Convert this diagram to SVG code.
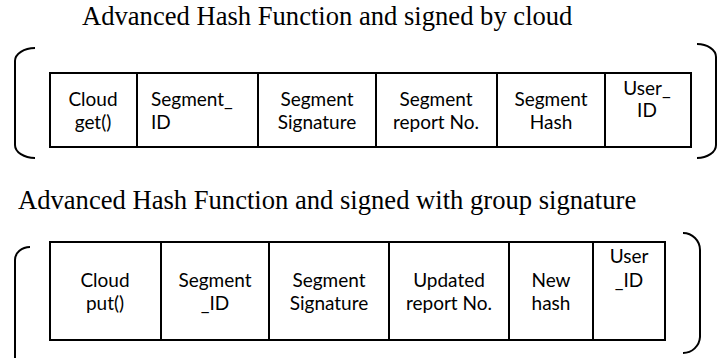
<svg xmlns="http://www.w3.org/2000/svg" width="725" height="358" viewBox="0 0 725 358">
  <style>
    .title { font-family: "Liberation Serif", "Times New Roman", serif; font-size: 26.6px; fill: #000; }
    .cell { font-family: Lato, "Liberation Sans", sans-serif; font-size: 19px; fill: #000; text-anchor: middle; }
    .left { text-anchor: start; }
    .box { fill: #fff; stroke: #000; stroke-width: 2; }
    .div { stroke: #000; stroke-width: 2; }
    .brace { fill: none; stroke: #000; stroke-width: 2; }
  </style>
  <rect width="725" height="358" fill="#fff"/>

  <!-- upper record: signed by cloud -->
  <g id="title-cloud">
    <text class="title" x="82" y="25">Advanced Hash Function and signed by cloud</text>
  </g>
  <g id="brackets-cloud">
    <path class="brace" d="M35,48 A20,13 0 0 0 15,61 L15,145 A20,13 0 0 0 35,158"/>
    <path class="brace" d="M697,44 A19,13 0 0 1 716,57 L716,145 A19,13 0 0 1 697,158"/>
  </g>
  <g id="record-cloud">
    <rect class="box" x="50" y="73" width="641" height="74"/>
    <line class="div" x1="137" y1="73" x2="137" y2="147"/>
    <line class="div" x1="258" y1="73" x2="258" y2="147"/>
    <line class="div" x1="376" y1="73" x2="376" y2="147"/>
    <line class="div" x1="497" y1="73" x2="497" y2="147"/>
    <line class="div" x1="605" y1="73" x2="605" y2="147"/>
  </g>
  <g id="cloud-get">
    <text class="cell" x="93" y="106">Cloud</text>
    <text class="cell" x="93" y="129">get()</text>
  </g>
  <g id="cloud-segment-id">
    <text class="cell left" x="151" y="106">Segment_</text>
    <text class="cell left" x="151" y="129">ID</text>
  </g>
  <g id="cloud-segment-signature">
    <text class="cell" x="317" y="106">Segment</text>
    <text class="cell" x="317" y="129">Signature</text>
  </g>
  <g id="cloud-report-no">
    <text class="cell" x="436" y="106">Segment</text>
    <text class="cell" x="436" y="129">report No.</text>
  </g>
  <g id="cloud-segment-hash">
    <text class="cell" x="551" y="106">Segment</text>
    <text class="cell" x="551" y="129">Hash</text>
  </g>
  <g id="cloud-user-id">
    <text class="cell" x="647" y="95">User_</text>
    <text class="cell" x="647" y="117">ID</text>
  </g>

  <!-- lower record: signed with group signature -->
  <g id="title-group">
    <text class="title" x="18" y="209">Advanced Hash Function and signed with group signature</text>
  </g>
  <g id="brackets-group">
    <path class="brace" d="M30,247 A15,13 0 0 0 15,260 L15,365"/>
    <path class="brace" d="M683,233 A17,17 0 0 1 700,250 L700,337 A17,17 0 0 1 683,353"/>
  </g>
  <g id="record-group">
    <rect class="box" x="50" y="242" width="615" height="98"/>
    <line class="div" x1="161" y1="242" x2="161" y2="340"/>
    <line class="div" x1="269" y1="242" x2="269" y2="340"/>
    <line class="div" x1="389" y1="242" x2="389" y2="340"/>
    <line class="div" x1="509" y1="242" x2="509" y2="340"/>
    <line class="div" x1="593" y1="242" x2="593" y2="340"/>
  </g>
  <g id="group-put">
    <text class="cell" x="105" y="287">Cloud</text>
    <text class="cell" x="105" y="310">put()</text>
  </g>
  <g id="group-segment-id">
    <text class="cell" x="215" y="287">Segment</text>
    <text class="cell" x="215" y="310">_ID</text>
  </g>
  <g id="group-segment-signature">
    <text class="cell" x="329" y="287">Segment</text>
    <text class="cell" x="329" y="310">Signature</text>
  </g>
  <g id="group-report-no">
    <text class="cell" x="449" y="287">Updated</text>
    <text class="cell" x="449" y="310">report No.</text>
  </g>
  <g id="group-new-hash">
    <text class="cell" x="551" y="287">New</text>
    <text class="cell" x="551" y="310">hash</text>
  </g>
  <g id="group-user-id">
    <text class="cell" x="629" y="263">User</text>
    <text class="cell" x="629" y="287">_ID</text>
  </g>
</svg>
